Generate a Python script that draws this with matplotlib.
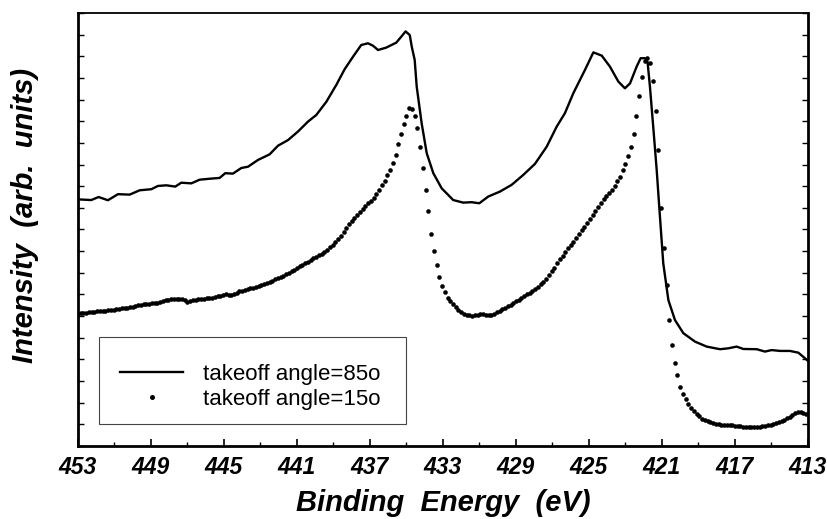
import matplotlib
matplotlib.use("Agg")
import matplotlib.pyplot as plt
from matplotlib.lines import Line2D
from matplotlib.patches import Rectangle
import numpy as np

# takeoff angle 85 deg: solid trace, (binding energy eV, intensity arb. units)
energy_85 = [
    453.00, 452.27, 451.87, 451.36, 450.81, 450.17, 449.62, 448.98, 448.62, 448.16,
    447.67, 447.34, 446.79, 446.33, 445.70, 445.24, 444.93, 444.51, 444.05, 443.68,
    443.14, 442.50, 442.04, 441.49, 440.95, 440.40, 439.94, 439.39, 438.85, 438.39,
    437.93, 437.48, 437.11, 436.84, 436.56, 436.11, 435.56, 435.28, 435.05, 434.82,
    434.71, 434.55, 434.44, 434.17, 433.89, 433.53, 433.07, 432.44, 431.89, 431.43,
    431.01, 430.52, 429.88, 429.24, 428.60, 427.96, 427.32, 426.77, 426.32, 425.86,
    425.22, 424.76, 424.30, 423.85, 423.39, 423.03, 422.75, 422.39, 422.17, 421.93,
    421.79, 421.66, 421.48, 421.29, 421.15, 420.93, 420.65, 420.29, 419.83, 419.19,
    418.55, 417.82, 417.37, 416.91, 416.54, 415.81, 415.36, 414.99, 414.53, 413.99,
    413.53, 413.26, 413.00,
]
intensity_85 = [
    11.39, 11.36, 11.50, 11.35, 11.63, 11.61, 11.81, 11.86, 12.01, 12.04,
    11.98, 12.16, 12.13, 12.30, 12.35, 12.38, 12.60, 12.58, 12.84, 12.90,
    13.21, 13.47, 13.87, 14.13, 14.52, 14.98, 15.29, 15.90, 16.67, 17.40,
    17.98, 18.52, 18.60, 18.49, 18.29, 18.40, 18.63, 18.91, 19.15, 18.98,
    18.44, 17.83, 16.60, 14.91, 13.52, 12.60, 11.90, 11.36, 11.24, 11.26,
    11.21, 11.52, 11.75, 12.06, 12.52, 13.03, 13.82, 14.75, 15.37, 16.29,
    17.37, 18.18, 18.03, 17.52, 16.83, 16.52, 16.75, 17.52, 17.91, 17.91,
    17.74, 16.60, 14.75, 12.75, 11.05, 8.44, 6.74, 5.82, 5.21, 4.82,
    4.59, 4.47, 4.51, 4.59, 4.48, 4.47, 4.36, 4.43, 4.39, 4.39,
    4.31, 4.12, 3.93,
]

# takeoff angle 15 deg: dotted trace, sampled every 0.15 eV from 453 eV
E_START = 453.0
E_STEP = 0.15
intensity_15 = [
    6.10, 6.12, 6.13, 6.15, 6.17, 6.18, 6.20, 6.22, 6.23, 6.24,
    6.25, 6.27, 6.28, 6.30, 6.31, 6.33, 6.35, 6.36, 6.38, 6.41,
    6.44, 6.47, 6.49, 6.52, 6.55, 6.56, 6.58, 6.59, 6.61, 6.61,
    6.65, 6.68, 6.72, 6.76, 6.79, 6.80, 6.81, 6.81, 6.77, 6.72,
    6.67, 6.69, 6.73, 6.76, 6.79, 6.80, 6.81, 6.82, 6.83, 6.84,
    6.88, 6.91, 6.95, 6.98, 7.00, 6.99, 6.97, 7.03, 7.08, 7.14,
    7.18, 7.21, 7.25, 7.28, 7.31, 7.35, 7.39, 7.44, 7.48, 7.52,
    7.58, 7.64, 7.69, 7.75, 7.81, 7.87, 7.94, 8.01, 8.08, 8.15,
    8.22, 8.30, 8.36, 8.44, 8.51, 8.59, 8.66, 8.73, 8.80, 8.88,
    8.97, 9.07, 9.17, 9.28, 9.42, 9.57, 9.72, 9.88, 10.06, 10.23,
    10.38, 10.53, 10.67, 10.82, 10.95, 11.08, 11.21, 11.33, 11.47, 11.65,
    11.84, 12.04, 12.25, 12.50, 12.75, 13.08, 13.46, 13.94, 14.40, 14.89,
    15.26, 15.61, 15.57, 15.23, 14.70, 13.83, 12.83, 11.81, 10.84, 9.78,
    9.01, 8.35, 7.82, 7.41, 7.09, 6.85, 6.68, 6.54, 6.40, 6.29,
    6.18, 6.09, 6.06, 6.03, 6.00, 6.03, 6.06, 6.10, 6.08, 6.06,
    6.05, 6.06, 6.11, 6.17, 6.24, 6.31, 6.38, 6.45, 6.53, 6.61,
    6.68, 6.76, 6.85, 6.92, 7.00, 7.08, 7.16, 7.24, 7.34, 7.46,
    7.59, 7.72, 7.89, 8.06, 8.24, 8.43, 8.62, 8.79, 8.98, 9.16,
    9.28, 9.42, 9.60, 9.79, 9.98, 10.13, 10.30, 10.47, 10.67, 10.85,
    11.03, 11.23, 11.41, 11.55, 11.69, 11.83, 12.03, 12.22, 12.44, 12.73,
    13.04, 13.40, 13.81, 14.42, 15.24, 16.16, 17.02, 17.76, 17.94, 17.71,
    16.88, 15.48, 13.69, 10.99, 9.16, 7.43, 5.81, 4.66, 3.85, 3.26,
    2.73, 2.39, 2.15, 1.94, 1.77, 1.63, 1.50, 1.39, 1.25, 1.18,
    1.14, 1.09, 1.05, 1.02, 1.00, 0.99, 0.98, 0.98, 0.97, 0.96,
    0.94, 0.92, 0.91, 0.89, 0.89, 0.88, 0.87, 0.87, 0.86, 0.89,
    0.91, 0.93, 0.95, 0.98, 1.02, 1.06, 1.10, 1.15, 1.22, 1.29,
    1.35, 1.44, 1.54, 1.59, 1.58, 1.54, 1.49,
]
energy_15 = E_START - E_STEP * np.arange(len(intensity_15))

x_major = np.arange(453, 412, -4)
x_minor = np.arange(451, 412, -4)
y_ticks = np.arange(0, 21, 1)

labels = ["takeoff angle=85o", "takeoff angle=15o"]

plt.rcParams["font.family"] = ["Liberation Sans", "DejaVu Sans"]

fig = plt.figure(figsize=(8.27, 5.19), dpi=100)
ax = fig.add_axes([0.0943, 0.1407, 0.8827, 0.8343])

ax.plot(energy_85, intensity_85, color="black", linewidth=1.7, solid_joinstyle="round")
ax.plot(energy_15, intensity_15, linestyle="none", marker="o", markersize=3.3,
        color="black", markeredgewidth=0)

ax.set_xlim(453, 413)
ax.set_ylim(0, 20)

ax.set_xticks(x_major)
ax.set_xticks(x_minor, minor=True)
ax.set_xticklabels([str(v) for v in x_major])
ax.set_yticks(y_ticks)
ax.set_yticklabels([])

ax.tick_params(axis="x", which="major", direction="in", length=5, width=1.2,
               top=False, pad=7, labelsize=16.5)
ax.tick_params(axis="x", which="minor", direction="in", length=3, width=1.0, top=False)
ax.tick_params(axis="y", which="major", direction="in", length=4.5, width=1.0,
               left=True, right=True)
for lab in ax.get_xticklabels():
    lab.set_fontweight("bold")
    lab.set_fontstyle("italic")

for side in ["left", "bottom", "right"]:
    ax.spines[side].set_linewidth(2.0)
ax.spines["top"].set_linewidth(1.3)

ax.set_xlabel("Binding  Energy  (eV)", fontsize=21, fontweight="bold", fontstyle="italic")
ax.xaxis.set_label_coords(0.5, -0.132)
ax.xaxis.label.set_verticalalignment("center")
ax.set_ylabel("Intensity  (arb.  units)", fontsize=21, fontweight="bold", fontstyle="italic")
ax.yaxis.set_label_coords(-0.073, 0.533)
ax.yaxis.label.set_verticalalignment("center")

# legend: box drawn separately so its padding can match the original
ax.add_patch(Rectangle((0.0288, 0.0508), 0.4205, 0.2009, transform=ax.transAxes,
                       facecolor="white", edgecolor="#444444", linewidth=0.8, zorder=4))
handles = [
    Line2D([], [], color="black", linewidth=1.7),
    Line2D([], [], linestyle="none", marker="o", markersize=3.6, color="black",
           markeredgewidth=0),
]
leg = ax.legend(handles, labels, loc="center left", bbox_to_anchor=(0.0575, 0.136),
                fontsize=16, frameon=False, handlelength=2.84, handletextpad=0.9,
                borderpad=0, labelspacing=0.18, borderaxespad=0)
leg.set_zorder(5)

fig.savefig("out.png", dpi=100)
